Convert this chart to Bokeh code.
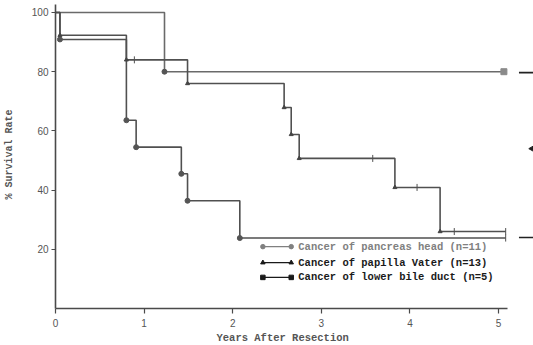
import math
from bokeh.plotting import figure
from bokeh.models import Range1d, FixedTicker, ColumnDataSource, Title
from bokeh.core.properties import value
from bokeh.embed import file_html
from bokeh.resources import INLINE

# ---- data ----
# Cancer of pancreas head (n=11)
panc_t = [0.0, 0.05, 0.80, 0.91, 1.42, 1.49, 2.08, 5.08]
panc_s = [100.0, 90.9, 63.6, 54.5, 45.5, 36.4, 23.8, 23.8]
panc_cens_t = [5.08]
panc_cens_s = [23.8]

# Cancer of papilla Vater (n=13)
pap_t = [0.0, 0.05, 0.80, 1.49, 2.58, 2.66, 2.75, 3.83, 4.34, 5.08]
pap_s = [100.0, 92.3, 84.0, 76.0, 67.9, 58.8, 50.7, 40.9, 26.0, 26.0]
pap_cens_t = [0.89, 3.58, 4.08, 4.50, 5.08]
pap_cens_s = [84.0, 50.7, 40.9, 26.0, 26.0]

# Cancer of lower bile duct (n=5)
bile_t = [0.0, 1.23, 5.06]
bile_s = [100.0, 80.0, 80.0]

legend_labels = ["Cancer of pancreas head (n=11)",
                 "Cancer of papilla Vater (n=13)",
                 "Cancer of lower bile duct (n=5)"]
x_ticks = [0, 1, 2, 3, 4, 5]
y_ticks = [20, 40, 60, 80, 100]

# stray marks at the right margin of the scan
margin_y = [79.7, 24.0]
margin_x0 = 5.23
margin_x1 = 5.40
arrow_x = [5.38]
arrow_y = [54.0]

# ---- figure ----
p = figure(width=533, height=345, output_backend="svg", toolbar_location=None,
           x_range=Range1d(0, 5.394), y_range=Range1d(0, 104.05),
           min_border_left=54, min_border_right=0, min_border_top=0,
           min_border_bottom=37)
p.outline_line_color = None
p.xgrid.visible = False
p.ygrid.visible = False
p.background_fill_color = "white"

axis_col = "#4a4a4a"
for ax in (p.xaxis[0], p.yaxis[0]):
    ax.axis_line_color = axis_col
    ax.axis_line_width = 1.6
    ax.major_tick_line_color = axis_col
    ax.major_tick_line_width = 1.2
    ax.minor_tick_line_color = None
    ax.major_label_text_font = "Liberation Sans"
    ax.major_label_text_font_size = "10px"
    ax.major_label_text_color = "#555555"
    ax.major_tick_in = 0
    ax.axis_label_text_font = "Liberation Mono"
    ax.axis_label_text_font_style = "bold"
    ax.axis_label_text_color = "#555555"

p.xaxis.ticker = FixedTicker(ticks=x_ticks)
p.yaxis.ticker = FixedTicker(ticks=y_ticks)
p.xaxis.bounds = (0, 5.1)
p.yaxis.bounds = (0, 102.7)
p.xaxis.major_tick_out = 5
p.yaxis.major_tick_out = 4
p.xaxis.major_label_standoff = 5
p.yaxis.major_label_standoff = 3

p.yaxis.axis_label = "% Survival Rate"
p.yaxis.axis_label_text_font_size = "10px"
p.yaxis.axis_label_standoff = 14

# x-axis title as a left-aligned title below the axis
p.add_layout(Title(text="Years After Resection", align="left", offset=161,
                   text_font="Liberation Mono", text_font_style="bold",
                   text_font_size="10.5px", text_color="#555555",
                   standoff=0), "below")

line_col = "#505050"
# curves
p.step(bile_t, bile_s, mode="after", line_color="#6a6a6a", line_width=1.6)
p.step(pap_t, pap_s, mode="after", line_color=line_col, line_width=1.6)
p.step(panc_t, panc_s, mode="after", line_color=line_col, line_width=1.6)

# markers at events
p.scatter(panc_t[1:-1], panc_s[1:-1], marker="circle", size=5,
          fill_color="#555555", line_color="#555555")
p.scatter(pap_t[1:-1], pap_s[1:-1], marker="triangle", size=4,
          fill_color="#444444", line_color="#444444")
p.scatter(bile_t[1:-1], bile_s[1:-1], marker="circle", size=5,
          fill_color="#555555", line_color="#555555")
p.scatter(bile_t[-1:], bile_s[-1:], marker="square", size=6,
          fill_color="#8a8a8a", line_color="#8a8a8a")

# censor ticks
p.scatter(pap_cens_t, pap_cens_s, marker="dash", angle=math.pi / 2, size=7,
          line_color=line_col, line_width=1)
p.scatter(panc_cens_t, panc_cens_s, marker="dash", angle=math.pi / 2, size=7,
          line_color=line_col, line_width=1)

# margin marks
p.segment(x0=[margin_x0] * len(margin_y), y0=margin_y,
          x1=[margin_x1] * len(margin_y), y1=margin_y,
          line_color="#222222", line_width=1.6)
p.scatter(arrow_x, arrow_y, marker="triangle", angle=math.pi / 2, size=6,
          fill_color="#222222", line_color="#222222")

# legend (drawn by hand to match placement)
leg_y = [20.9, 15.5, 10.5]
leg_x0, leg_x1 = 2.34, 2.66
leg_cols = ["#808080", "#1a1a1a", "#1a1a1a"]
leg_markers = ["circle", "triangle", "square"]
for yy, col, mk in zip(leg_y, leg_cols, leg_markers):
    p.line([leg_x0, leg_x1], [yy, yy], line_color=col, line_width=1.4)
    p.scatter([leg_x0, leg_x1], [yy, yy], marker=mk, size=4.5,
              fill_color=col, line_color=col)
src = ColumnDataSource(dict(x=[2.74] * 3, y=leg_y, t=legend_labels, c=leg_cols))
p.text(x="x", y="y", text="t", text_color="c", source=src,
       text_font=value("Liberation Mono"), text_font_size="10.5px",
       text_font_style="bold", text_baseline="middle", text_align="left")

open("out.html", "w").write(file_html(p, INLINE))
